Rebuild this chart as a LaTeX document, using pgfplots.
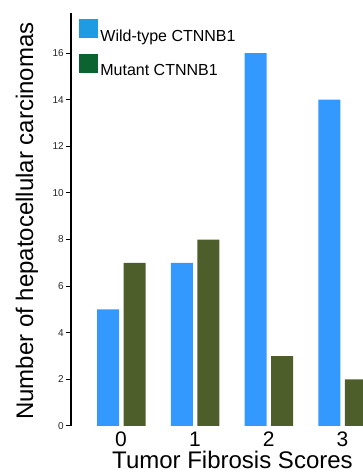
\documentclass[border=0pt]{standalone}
\usepackage{fontspec}
\setmainfont{Liberation Sans}
\usepackage{pgfplots}
\pgfplotsset{compat=1.18}
\definecolor{wtbar}{HTML}{3399FF}
\definecolor{mubar}{HTML}{4E5E2A}
\definecolor{wtleg}{HTML}{1E9BE3}
\definecolor{muleg}{HTML}{0B6330}
\begin{document}
\begin{tikzpicture}[x=1pt,y=1pt]
\useasboundingbox (0,0) rectangle (363,473);
\begin{axis}[
  at={(71pt,47pt)}, anchor=south west,
  scale only axis, width=292pt, height=413pt,
  xmin=-0.678, xmax=3.278, ymin=0, ymax=17.72,
  axis y line*=left, axis x line*=bottom,
  x axis line style={draw=none},
  y axis line style={line width=1.2pt,-},
  xtick={0,1,2,3},
  major x tick style={draw=none},
  ytick={0,2,4,6,8,10,12,14,16},
  tick align=outside,
  major tick length=5pt,
  major y tick style={line width=1pt, black},
  /pgf/number format/assume math mode=true,
  yticklabel style={font=\fontsize{10}{12}\selectfont, text=black!85, inner sep=2pt},
  xticklabel style={font=\fontsize{21}{24}\selectfont, anchor=base, yshift=-15.7pt},
  xlabel={Tumor Fibrosis Scores},
  xlabel style={at={(rel axis cs:0.553,-0.1017)}, anchor=base, inner sep=0pt, outer sep=0pt, font=\fontsize{24}{28}\selectfont},
  ylabel={Number of hepatocellular carcinomas},
  ylabel style={at={(rel axis cs:-0.130,0.496)}, anchor=base, rotate=0, font=\fontsize{24}{28}\selectfont},
  legend style={at={(rel axis cs:0.0274,0.9855)}, anchor=north west, draw=none, fill=none,
    inner sep=0pt, outer sep=0pt, row sep=11pt,
    font=\fontsize{16}{18}\selectfont,
    nodes={inner sep=0pt},
    /tikz/every odd column/.append style={column sep=3pt}},
  legend cell align=left,
]
\addplot[ybar, bar width=22pt, bar shift=-13pt, fill=wtbar, draw=none, forget plot]
  coordinates {(0,5) (1,7) (2,16) (3,14)};
\addplot[ybar, bar width=22pt, bar shift=13.5pt, fill=mubar, draw=none, forget plot]
  coordinates {(0,7) (1,8) (2,3) (3,2)};
\addlegendimage{legend image code/.code={\fill[wtleg] (0pt,-1pt) rectangle (18pt,17pt);}}
\addlegendentry{Wild-type CTNNB1}
\addlegendimage{legend image code/.code={\fill[muleg] (0pt,-1pt) rectangle (18pt,17pt);}}
\addlegendentry{Mutant CTNNB1}
\end{axis}
\end{tikzpicture}
\end{document}
